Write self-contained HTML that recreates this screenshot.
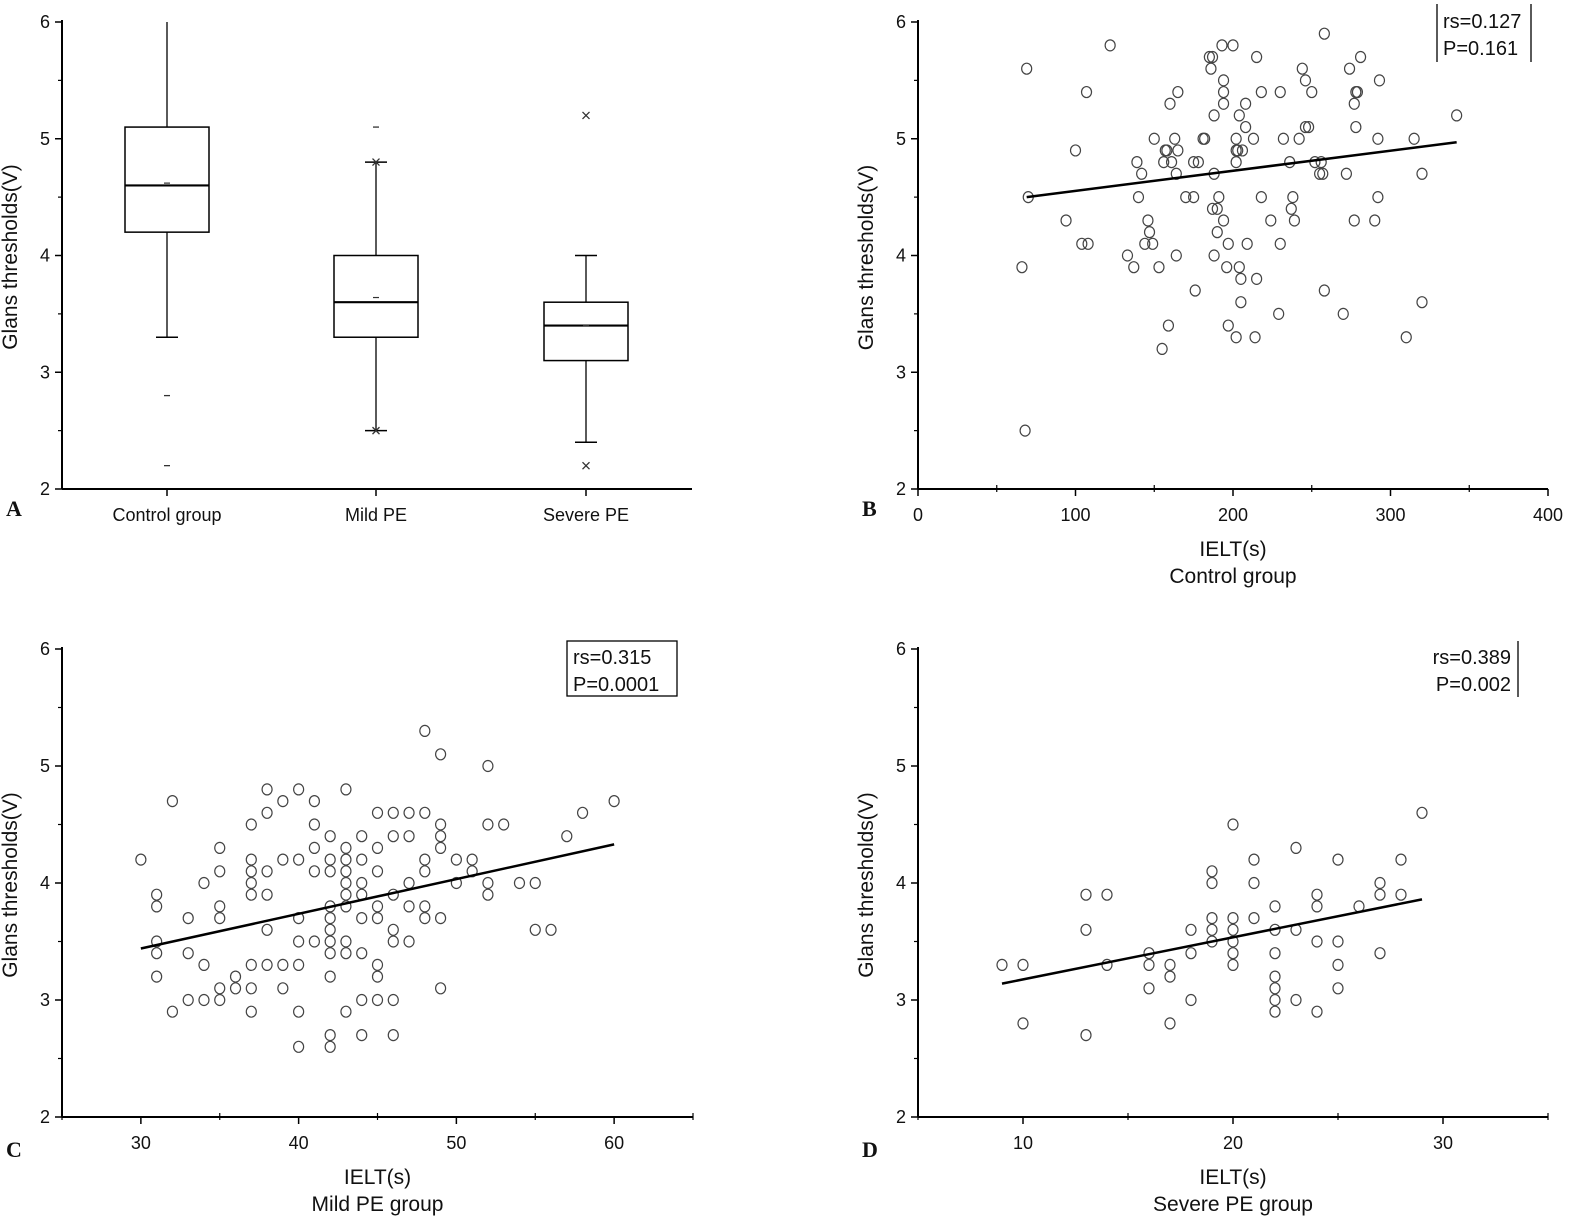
<!DOCTYPE html>
<html><head><meta charset="utf-8">
<style>
html,body{margin:0;padding:0;background:#fff;}
svg{display:block;font-family:"Liberation Sans",Arial,sans-serif;}
</style></head>
<body>
<svg id="fig" width="1575" height="1225" viewBox="0 0 1575 1225"></svg>
<script>
// ---------- Data ----------
const boxCategories = ["Control group","Mild PE","Severe PE"];
const boxQ1 = [4.2,3.3,3.1];
const boxMedian = [4.6,3.6,3.4];
const boxQ3 = [5.1,4.0,3.6];
const boxWhiskerLow = [3.3,2.5,2.4];
const boxWhiskerHigh = [6.0,4.8,4.0];
const boxMean = [4.62,3.64,3.4];
const boxOutliers = [[2.8,2.2],[5.1],[5.2,2.2]];
const boxXMarks = [[],[4.8,2.5],[5.2,2.2]];

const bX = [69,70,66,68,100,94,107,104,108,122,133,137,139,142,140,144,146,147,149,150,153,156,157,158,155,159,160,161,163,164,165,165,164,170,175,175,176,178,181,182,185,187,186,188,188,187,188,190,190,191,193,194,194,194,194,196,197,197,200,202,202,202,203,202,204,204,205,205,206,208,208,209,213,215,215,214,218,218,224,229,230,230,232,236,237,238,239,242,244,246,246,248,250,252,255,256,257,258,258,270,272,274,277,277,278,278,279,281,290,292,293,292,310,315,320,320,342];
const bY = [5.6,4.5,3.9,2.5,4.9,4.3,5.4,4.1,4.1,5.8,4.0,3.9,4.8,4.7,4.5,4.1,4.3,4.2,4.1,5.0,3.9,4.8,4.9,4.9,3.2,3.4,5.3,4.8,5.0,4.0,4.9,5.4,4.7,4.5,4.5,4.8,3.7,4.8,5.0,5.0,5.7,5.7,5.6,5.2,4.7,4.4,4.0,4.2,4.4,4.5,5.8,5.3,5.5,5.4,4.3,3.9,3.4,4.1,5.8,5.0,4.8,4.9,4.9,3.3,5.2,3.9,3.8,3.6,4.9,5.3,5.1,4.1,5.0,5.7,3.8,3.3,5.4,4.5,4.3,3.5,5.4,4.1,5.0,4.8,4.4,4.5,4.3,5.0,5.6,5.5,5.1,5.1,5.4,4.8,4.7,4.8,4.7,3.7,5.9,3.5,4.7,5.6,4.3,5.3,5.1,5.4,5.4,5.7,4.3,5.0,5.5,4.5,3.3,5.0,4.7,3.6,5.2];
const bFit = [[69,4.5],[342,4.97]];

const cX = [30,31,31,31,31,31,32,32,33,33,33,34,34,34,35,35,35,35,35,35,36,36,37,37,37,37,37,37,37,37,38,38,38,38,38,38,39,39,39,39,40,40,40,40,40,40,40,41,41,41,41,41,42,42,42,42,42,42,42,42,42,42,42,43,43,43,43,43,43,43,43,43,43,44,44,44,44,44,44,44,44,45,45,45,45,45,45,45,45,46,46,46,46,46,46,46,47,47,47,47,47,48,48,48,48,48,48,49,49,49,49,49,49,50,50,51,51,52,52,52,52,53,54,55,55,56,57,58,60];
const cY = [4.2,3.9,3.8,3.5,3.4,3.2,4.7,2.9,3.7,3.4,3.0,4.0,3.3,3.0,4.3,4.1,3.8,3.7,3.1,3.0,3.2,3.1,4.5,4.2,4.1,4.0,3.9,3.3,3.1,2.9,4.8,4.6,4.1,3.9,3.6,3.3,4.7,4.2,3.3,3.1,4.8,4.2,3.7,3.5,3.3,2.9,2.6,4.7,4.5,4.3,4.1,3.5,4.4,4.2,4.1,3.8,3.7,3.6,3.5,3.4,3.2,2.7,2.6,4.8,4.3,4.2,4.1,4.0,3.9,3.8,3.5,3.4,2.9,4.4,4.2,4.0,3.9,3.7,3.4,3.0,2.7,4.6,4.3,4.1,3.8,3.7,3.3,3.2,3.0,4.6,4.4,3.9,3.6,3.5,3.0,2.7,4.6,4.4,4.0,3.8,3.5,5.3,4.6,4.2,4.1,3.8,3.7,5.1,4.5,4.4,4.3,3.7,3.1,4.2,4.0,4.2,4.1,5.0,4.5,4.0,3.9,4.5,4.0,4.0,3.6,3.6,4.4,4.6,4.7];
const cFit = [[30,3.44],[60,4.33]];

const dX = [9,10,10,13,13,13,14,14,16,16,16,17,17,17,18,18,18,19,19,19,19,19,20,20,20,20,20,20,21,21,21,22,22,22,22,22,22,22,23,23,23,24,24,24,24,25,25,25,25,26,27,27,27,28,28,29];
const dY = [3.3,3.3,2.8,3.9,3.6,2.7,3.9,3.3,3.4,3.3,3.1,3.3,3.2,2.8,3.6,3.4,3.0,4.1,4.0,3.7,3.6,3.5,4.5,3.7,3.6,3.5,3.4,3.3,4.2,4.0,3.7,3.8,3.6,3.4,3.2,3.1,3.0,2.9,4.3,3.6,3.0,3.9,3.8,3.5,2.9,4.2,3.5,3.3,3.1,3.8,4.0,3.9,3.4,4.2,3.9,4.6];
const dFit = [[9,3.14],[29,3.86]];

const yTicks = [2,3,4,5,6];
const bXTicks = [0,100,200,300,400];
const cXTicks = [30,40,50,60];
const dXTicks = [10,20,30];

// ---------- helpers ----------
const NS="http://www.w3.org/2000/svg";
const svg=document.getElementById('fig');
function mk(tag,attrs,parent){const e=document.createElementNS(NS,tag);for(const k in attrs)e.setAttribute(k,attrs[k]);(parent||svg).appendChild(e);return e;}
function txt(s,x,y,size,anchor,parent,extra){const t=mk('text',Object.assign({x:x,y:y,'font-size':size,'text-anchor':anchor||'middle',fill:'#111'},extra||{}),parent);t.textContent=s;return t;}

function makeAxes(g,x0,x1,yTop,yBot,ylo,yhi,xlo,xhi){
  const sy=v=>yBot-(v-ylo)/(yhi-ylo)*(yBot-yTop);
  const sx=v=>x0+(v-xlo)/(xhi-xlo)*(x1-x0);
  return {sx,sy};
}
function drawYAxis(g,x0,yTop,yBot,sy,title,titleY){
  const ax=mk('line',{x1:x0,y1:yTop-2,x2:x0,y2:yBot,stroke:'#000','stroke-width':2},g);
  
  yTicks.forEach(v=>{
    mk('line',{x1:x0-7,y1:sy(v),x2:x0,y2:sy(v),stroke:'#000','stroke-width':1.5},g);
    if(v<6) mk('line',{x1:x0-4,y1:sy(v+0.5),x2:x0,y2:sy(v+0.5),stroke:'#000','stroke-width':1.2},g);
    const t=txt(String(v),x0-12,sy(v)+6,18,'end',g);
    
  });
  const tt=txt(title,0,0,21,'middle',g,{transform:`translate(${x0-45},${titleY}) rotate(-90)`});
  
}
function drawXAxis(g,x0,x1,yBot,sx,ticks,minorStep,xlo,xhi){
  const ax=mk('line',{x1:x0,y1:yBot,x2:x1,y2:yBot,stroke:'#000','stroke-width':2},g);
  
  for(let v=xlo;v<=xhi+1e-9;v+=minorStep){
    if(ticks.indexOf(v)<0) mk('line',{x1:sx(v),y1:yBot-4,x2:sx(v),y2:yBot+3,stroke:'#000','stroke-width':1.2},g);
  }
  ticks.forEach(v=>{
    mk('line',{x1:sx(v),y1:yBot,x2:sx(v),y2:yBot+7,stroke:'#000','stroke-width':1.5},g);
    const t=txt(String(v),sx(v),yBot+32,18,'middle',g);
    
  });
}
function panelLetter(s,x,y){const t=txt(s,x,y,22,'start',svg,{'font-family':'Liberation Serif, serif','font-weight':'bold'});
  }

function scatterPanel(name,xs,ys,fit,x0,x1,yTop,yBot,xlo,xhi,ticks,minor,sub){
  const g=mk('g',{});
  
  const {sx,sy}=makeAxes(g,x0,x1,yTop,yBot,2,6,xlo,xhi);
  drawYAxis(g,x0,yTop,yBot,sy,'Glans thresholds(V)',(yTop+yBot)/2+2);
  drawXAxis(g,x0,x1,yBot,sx,ticks,minor,xlo,xhi);
  xs.forEach((x,i)=>{
    const c=mk('ellipse',{cx:sx(x),cy:sy(ys[i]),rx:5,ry:5.5,fill:'none',stroke:'#444','stroke-width':1.2},g);
    
  });
  const l=mk('line',{x1:sx(fit[0][0]),y1:sy(fit[0][1]),x2:sx(fit[1][0]),y2:sy(fit[1][1]),stroke:'#000','stroke-width':2.5},g);
  
  const cx=(x0+x1)/2;
  const t1=txt('IELT(s)',cx,yBot+67,21,'middle',g);
  const t2=txt(sub,cx,yBot+94,21,'middle',g);
  return g;
}

// ---------- Panel A (box plot) ----------
(function(){
  const g=mk('g',{});
  const x0=62,x1=692,yTop=22,yBot=489;
  const sy=v=>yBot-(v-2)/4*(yBot-yTop);
  const cxs=[167,376,586];
  drawYAxis(g,x0,yTop,yBot,sy,'Glans thresholds(V)',257);
  const ax=mk('line',{x1:x0,y1:yBot,x2:x1,y2:yBot,stroke:'#000','stroke-width':2},g);
  
  boxCategories.forEach((c,i)=>{
    const cx=cxs[i];
    mk('line',{x1:cx,y1:yBot,x2:cx,y2:yBot+7,stroke:'#000','stroke-width':1.5},g);
    const t=txt(c,cx,yBot+32,18,'middle',g);
    const bg=mk('g',{},g);
    const hw=42,cw=11;
    mk('line',{x1:cx,y1:sy(boxWhiskerHigh[i]),x2:cx,y2:sy(boxQ3[i]),stroke:'#000','stroke-width':1.3},bg);
    mk('line',{x1:cx,y1:sy(boxQ1[i]),x2:cx,y2:sy(boxWhiskerLow[i]),stroke:'#000','stroke-width':1.3},bg);
    if(i>0) mk('line',{x1:cx-cw,y1:sy(boxWhiskerHigh[i]),x2:cx+cw,y2:sy(boxWhiskerHigh[i]),stroke:'#000','stroke-width':1.5},bg);
    mk('line',{x1:cx-cw,y1:sy(boxWhiskerLow[i]),x2:cx+cw,y2:sy(boxWhiskerLow[i]),stroke:'#000','stroke-width':1.5},bg);
    mk('rect',{x:cx-hw,y:sy(boxQ3[i]),width:2*hw,height:sy(boxQ1[i])-sy(boxQ3[i]),fill:'none',stroke:'#000','stroke-width':1.5},bg);
    mk('line',{x1:cx-hw,y1:sy(boxMedian[i]),x2:cx+hw,y2:sy(boxMedian[i]),stroke:'#000','stroke-width':2.2},bg);
    mk('line',{x1:cx-3,y1:sy(boxMean[i]),x2:cx+3,y2:sy(boxMean[i]),stroke:'#333','stroke-width':1.2},bg);
    boxOutliers[i].forEach(v=>{if(boxXMarks[i].indexOf(v)<0){const o=mk('line',{x1:cx-3,y1:sy(v),x2:cx+3,y2:sy(v),stroke:'#333','stroke-width':1.3},bg);}});
    boxXMarks[i].forEach(v=>{const y=sy(v);
      const o=mk('path',{d:`M${cx-3.5} ${y-3.5}L${cx+3.5} ${y+3.5}M${cx+3.5} ${y-3.5}L${cx-3.5} ${y+3.5}`,stroke:'#333','stroke-width':1.3,fill:'none'},bg);
      });
  });
})();

// ---------- Scatter panels ----------
scatterPanel('panel-b-scatter',bX,bY,bFit,918,1548,22,489,0,400,bXTicks,50,'Control group');
scatterPanel('panel-c-scatter',cX,cY,cFit,62,693,649,1117,25,65,cXTicks,5,'Mild PE group');
scatterPanel('panel-d-scatter',dX,dY,dFit,918,1548,649,1117,5,35,dXTicks,5,'Severe PE group');

// ---------- Legends ----------
(function(){
  let g=mk('g',{});
  mk('line',{x1:1437,y1:4,x2:1437,y2:62,stroke:'#000','stroke-width':1.3},g);
  mk('line',{x1:1531,y1:4,x2:1531,y2:62,stroke:'#000','stroke-width':1.3},g);
  txt('rs=0.127',1443,28,20,'start',g);txt('P=0.161',1443,55,20,'start',g);
  g=mk('g',{});
  mk('rect',{x:567,y:641,width:110,height:55,fill:'none',stroke:'#000','stroke-width':1.3},g);
  txt('rs=0.315',573,664,20,'start',g);txt('P=0.0001',573,691,20,'start',g);
  g=mk('g',{});
  mk('line',{x1:1518,y1:641,x2:1518,y2:697,stroke:'#000','stroke-width':1.3},g);
  txt('rs=0.389',1511,664,20,'end',g);txt('P=0.002',1511,691,20,'end',g);
})();

panelLetter('A',6,516);panelLetter('B',862,516);panelLetter('C',6,1157);panelLetter('D',862,1157);
</script>
</body></html>
